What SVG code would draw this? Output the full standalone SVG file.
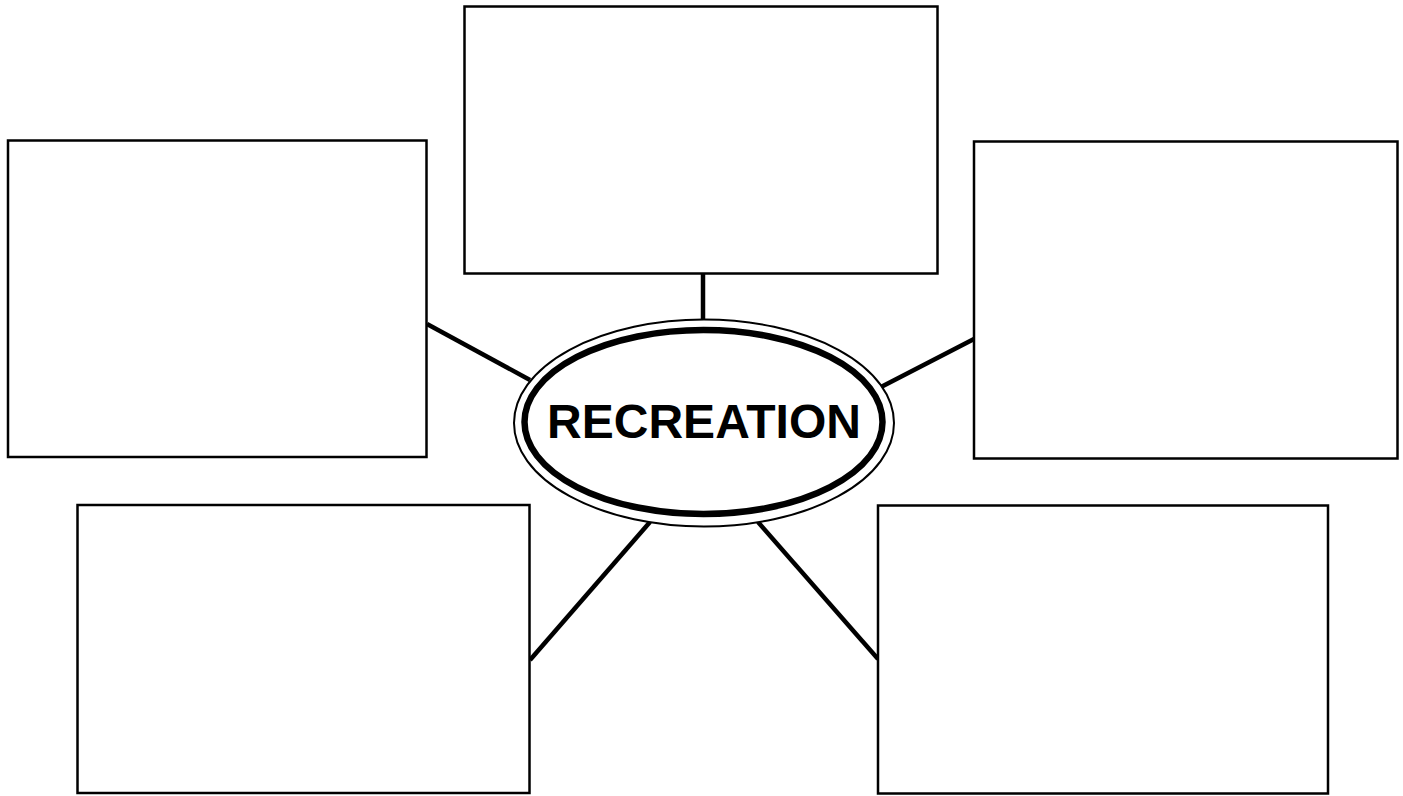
<svg xmlns="http://www.w3.org/2000/svg" width="1403" height="796" viewBox="0 0 1403 796">
<style>
.box{fill:#fff;stroke:#000;stroke-width:2.5}
.conn{stroke:#000;stroke-width:4.5;fill:none}
.title{font-family:"Liberation Sans",Arial,sans-serif;font-weight:bold;font-size:48px;fill:#000}
</style>
<rect width="1403" height="796" fill="#fff"/>
<g id="connectors">
<line class="conn" x1="703" y1="274" x2="703" y2="320"/>
<line class="conn" x1="427" y1="324" x2="530" y2="380"/>
<line class="conn" x1="974" y1="339" x2="881" y2="387"/>
<line class="conn" x1="650" y1="522" x2="530" y2="660"/>
<line class="conn" x1="758" y1="522" x2="878" y2="659"/>
</g>
<g id="box-top"><rect class="box" x="464.5" y="6.5" width="473" height="267"/></g>
<g id="box-left"><rect class="box" x="8" y="140.5" width="418.5" height="316.5"/></g>
<g id="box-right"><rect class="box" x="974" y="141.5" width="423.5" height="317"/></g>
<g id="box-bottom-left"><rect class="box" x="77.5" y="505" width="452" height="288"/></g>
<g id="box-bottom-right"><rect class="box" x="878" y="505.5" width="450" height="288"/></g>
<g id="center">
<ellipse cx="704" cy="423" rx="190" ry="103.5" fill="#fff" stroke="#000" stroke-width="2"/>
<ellipse cx="703.5" cy="422" rx="179" ry="92" fill="#fff" stroke="#000" stroke-width="6.5"/>
<text class="title" x="704" y="437.5" text-anchor="middle">RECREATION</text>
</g>
</svg>
